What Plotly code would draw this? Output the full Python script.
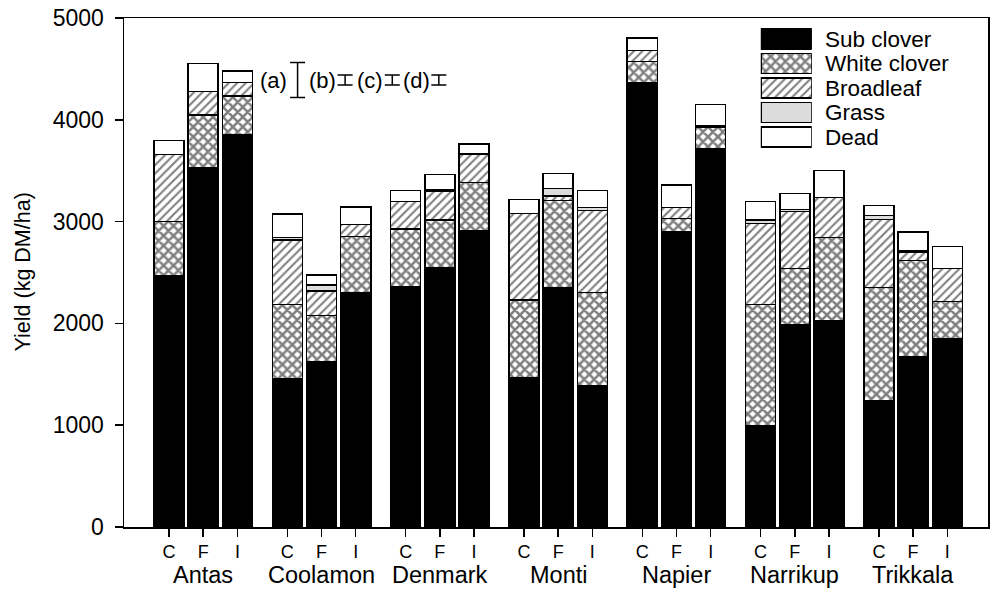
import plotly.graph_objects as go

# ---------------- data ----------------
sites = ["Antas", "Coolamon", "Denmark", "Monti", "Napier", "Narrikup", "Trikkala"]
treatments = ["C", "F", "I"]

sub_clover = [2466, 3530, 3854,
              1460, 1624, 2302,
              2361, 2551, 2908,
              1467, 2351, 1388,
              4368, 2901, 3720,
              995, 1991, 2027,
              1238, 1673, 1847]
white_clover = [533, 517, 380,
                727, 452, 550,
                564, 465, 478,
                763, 854, 917,
                203, 131, 205,
                1193, 550, 819,
                1117, 943, 366]
broadleaf = [662, 229, 134,
             632, 242, 121,
             271, 285, 278,
             851, 46, 802,
             108, 108, 14,
             795, 557, 389,
             667, 79, 328]
grass = [0, 0, 0,
         23, 59, 0,
         0, 10, 0,
         0, 76, 33,
         0, 0, 0,
         33, 23, 0,
         40, 15, 0]
dead = [134, 279, 111,
        233, 98, 170,
        108, 150, 98,
        138, 147, 164,
        127, 220, 213,
        180, 153, 269,
        98, 190, 212]

lsd_labels = ["(a)", "(b)", "(c)", "(d)"]
lsd_half = [172, 49, 49, 49]

component_names = ["Sub clover", "White clover", "Broadleaf", "Grass", "Dead"]
component_values = [sub_clover, white_clover, broadleaf, grass, dead]

# ---------------- layout constants ----------------
FONT = "Arial, Liberation Sans, sans-serif"
GROUP_STEP = 3.46
BAR_W = 0.88
x_pos = [g * GROUP_STEP + i for g in range(len(sites)) for i in range(len(treatments))]
x_text = [t for _ in sites for t in treatments]

styles = {
    "Sub clover": dict(color="black"),
    "White clover": dict(color="white", pattern=dict(shape="x", fgcolor="black", bgcolor="white",
                                                      size=7, solidity=0.6)),
    "Broadleaf": dict(color="white", pattern=dict(shape="/", fgcolor="black", bgcolor="white",
                                                   size=6, solidity=0.35)),
    "Grass": dict(color="#dcdcdc"),
    "Dead": dict(color="white"),
}

fig = go.Figure()
for name, vals in zip(component_names, component_values):
    fig.add_trace(go.Bar(
        x=x_pos, y=vals, width=BAR_W, name=name, showlegend=False,
        marker=dict(line=dict(color="black", width=1.5), **styles[name]),
    ))

# legend swatches drawn on their own small axes
for name in component_names:
    fig.add_trace(go.Bar(
        x=[1], y=[name], orientation="h", width=0.82, showlegend=False,
        xaxis="x2", yaxis="y2",
        marker=dict(line=dict(color="black", width=1.5), **styles[name]),
    ))

# LSD error bars
lsd_bar_x = [3.76, 5.15, 6.53, 7.89]
lsd_text_x = [3.07, 4.49, 5.88, 7.24]
LSD_Y = 4390
fig.add_trace(go.Scatter(
    x=lsd_bar_x, y=[LSD_Y] * len(lsd_bar_x), mode="markers", showlegend=False,
    marker=dict(size=1, color="rgba(0,0,0,0)"),
    error_y=dict(type="data", array=lsd_half, symmetric=True, color="black",
                 thickness=1.5, width=7.5),
))

annotations = []
for lab, xx in zip(lsd_labels, lsd_text_x):
    annotations.append(dict(x=xx, y=LSD_Y, xref="x", yref="y", text=lab, showarrow=False,
                            font=dict(family=FONT, size=22, color="black"),
                            xanchor="center", yanchor="middle"))
for g, s in enumerate(sites):
    annotations.append(dict(x=g * GROUP_STEP + 1, y=-0.094, xref="x", yref="paper", text=s,
                            showarrow=False, font=dict(family=FONT, size=23.5, color="black"),
                            xanchor="center", yanchor="middle"))
for name in component_names:
    annotations.append(dict(x=0.809, y=name, xref="paper", yref="y2", text=name,
                            showarrow=False, font=dict(family=FONT, size=22.5, color="black"),
                            xanchor="left", yanchor="middle"))
# y-axis title
annotations.append(dict(x=(22 - 124) / 864, y=0.5, xref="paper", yref="paper",
                        text="Yield (kg DM/ha)", showarrow=False, textangle=-90,
                        font=dict(family=FONT, size=21.5, color="black"),
                        xanchor="center", yanchor="middle"))

fig.update_layout(
    width=991, height=590,
    margin=dict(l=124, r=3, t=18, b=63, autoexpand=False),
    paper_bgcolor="white", plot_bgcolor="white",
    barmode="stack",
    hovermode=False,
    font=dict(family=FONT, color="black"),
    xaxis=dict(range=[-1.316, 23.95], tickvals=x_pos, ticktext=x_text, automargin=False,
               ticks="outside", ticklen=8, tickwidth=1.5, tickcolor="black",
               showline=True, linecolor="black", linewidth=1.5, mirror=True,
               showgrid=False, zeroline=False, tickfont=dict(size=18, family=FONT)),
    yaxis=dict(range=[0, 5000], tickvals=[0, 1000, 2000, 3000, 4000, 5000], automargin=False,
               ticks="outside", ticklen=8, tickwidth=1.5, tickcolor="black",
               showline=True, linecolor="black", linewidth=1.5, mirror=True,
               showgrid=False, zeroline=False, tickfont=dict(size=23, family=FONT),
               ticklabelstandoff=6, ticklabeloverflow="allow"),
    xaxis2=dict(domain=[0.737, 0.796], range=[0, 1], visible=False, anchor="y2"),
    yaxis2=dict(domain=[0.7421, 0.9828], type="category", categoryorder="array",
                categoryarray=component_names, range=[4.5, -0.5], visible=False, anchor="x2"),
    annotations=annotations,
)

fig.write_html("out.html", config={"displayModeBar": False, "staticPlot": True},
               post_script="document.body.style.margin='0';")
